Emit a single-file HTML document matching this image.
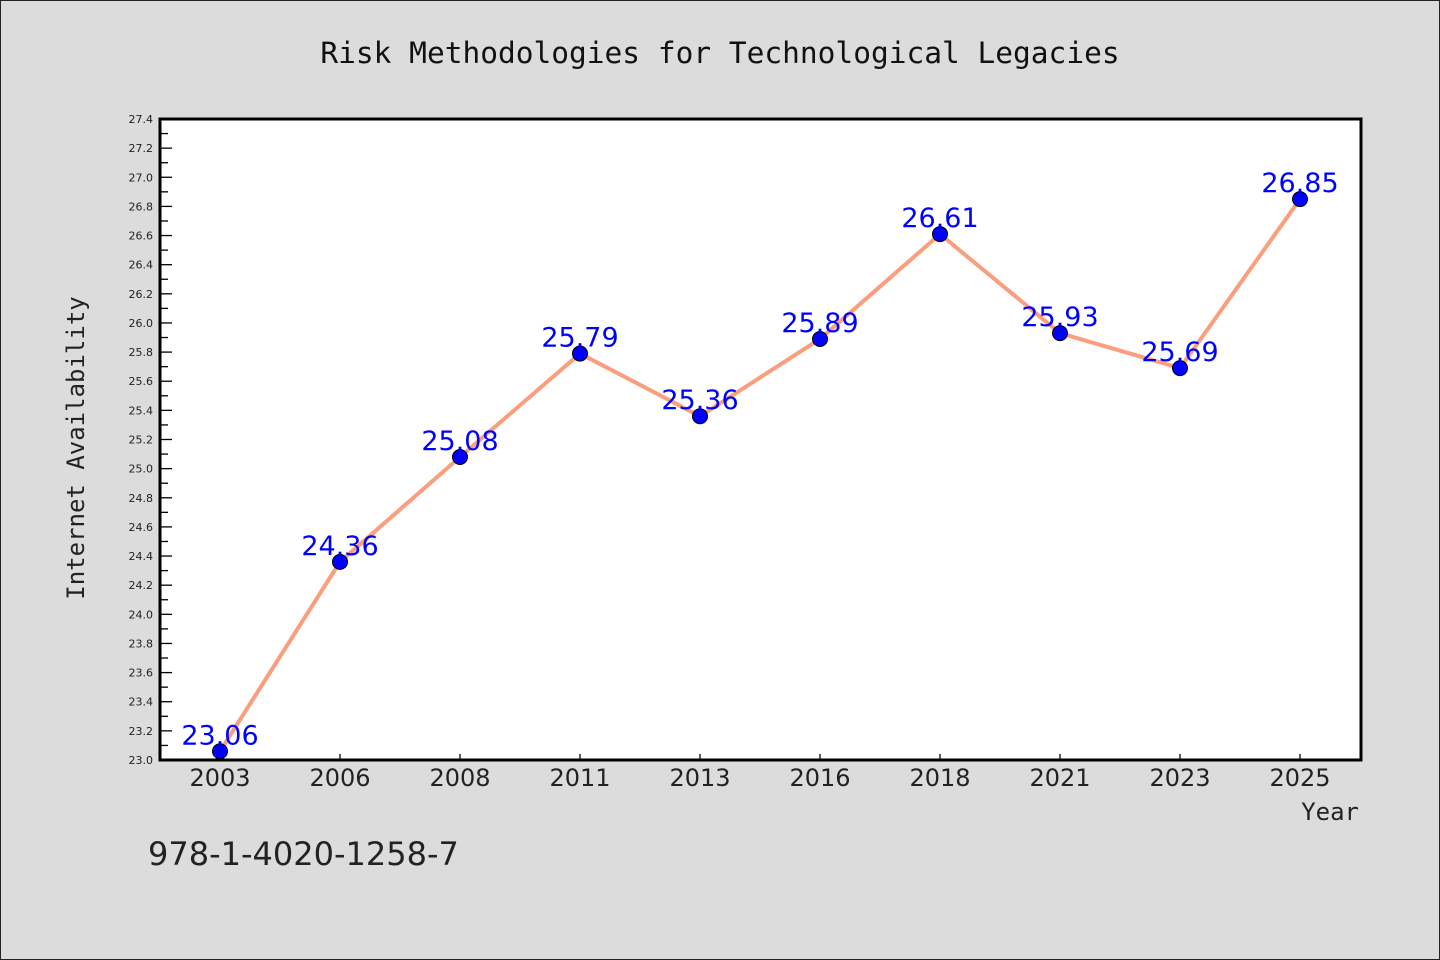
<!DOCTYPE html>
<html><head><meta charset="utf-8"><style>
body{margin:0;background:#dcdcdc;}
svg{display:block;font-family:"WenQuanYi Zen Hei","DejaVu Sans",sans-serif;}
</style></head><body>
<svg id="chart" width="1440" height="960" viewBox="0 0 1440 960">
<rect x="0.5" y="0.5" width="1439" height="959" fill="#dcdcdc" stroke="#222" stroke-width="1"/>
<text x="720" y="63" text-anchor="middle" font-family="DejaVu Sans Mono, monospace" font-size="29.5" fill="#111">Risk Methodologies for Technological Legacies</text>
<rect x="160" y="119" width="1201" height="641" fill="#fff"/>
<g id="ticks"></g>
<g id="series"></g>
<rect x="160" y="119" width="1201" height="641" fill="none" stroke="#000" stroke-width="3"/>
<text transform="translate(84,448) rotate(-90)" text-anchor="middle" font-family="DejaVu Sans Mono, monospace" font-size="24" fill="#222">Internet Availability</text>
<text x="1359" y="820" text-anchor="end" font-family="DejaVu Sans Mono, monospace" font-size="24" fill="#222">Year</text>
<text x="148" y="865" font-size="32" fill="#222">978-1-4020-1258-7</text>
</svg>
<script>
const categories=["2003","2006","2008","2011","2013","2016","2018","2021","2023","2025"];
const values=[23.06,24.36,25.08,25.79,25.36,25.89,26.61,25.93,25.69,26.85];
const yMin=23.0,yMax=27.4;
const L=160,R=1360,T=119,B=760;
const NS="http://www.w3.org/2000/svg";
const x=i=>L+(R-L)/categories.length*(i+0.5);
const y=v=>B-(v-yMin)/(yMax-yMin)*(B-T);
const tg=document.getElementById('ticks'),sg=document.getElementById('series');
function mk(tag,attrs,parent){const e=document.createElementNS(NS,tag);for(const k in attrs)e.setAttribute(k,attrs[k]);parent.appendChild(e);return e;}
for(let k=0;k<=44;k++){
  const v=yMin+k*0.1,yy=y(v),major=k%2===0;
  const t=mk('line',{x1:L,x2:L+(major?12:8),y1:yy,y2:yy,stroke:'#000','stroke-width':1.3},tg);
  
  
  if(major){
    const lb=mk('text',{x:L-7,y:yy+4,'text-anchor':'end','font-size':11,fill:'#222'},tg);
    
    
    lb.textContent=v.toFixed(1);
  }
}
categories.forEach((c,i)=>{
  const t=mk('line',{x1:x(i),x2:x(i),y1:B,y2:B-6,stroke:'#000','stroke-width':1.3},tg);
  
  
  const lb=mk('text',{x:x(i),y:B+26,'text-anchor':'middle','font-size':24,fill:'#222'},tg);
  
  
  lb.textContent=c;
});
const pl=mk('polyline',{points:values.map((v,i)=>x(i)+','+y(v)).join(' '),fill:'none',stroke:'#fa9e7e','stroke-width':4,'stroke-linejoin':'round'},sg);


values.forEach((v,i)=>{
  const c=mk('circle',{cx:x(i),cy:y(v),r:7.5,fill:'#0000ff',stroke:'#000','stroke-width':1},sg);
  
  
});
values.forEach((v,i)=>{
  const t=mk('text',{x:x(i),y:y(v)-7,'text-anchor':'middle','font-size':27,fill:'#0000ff'},sg);
  
  
  t.textContent=v.toFixed(2);
});
</script>
</body></html>
